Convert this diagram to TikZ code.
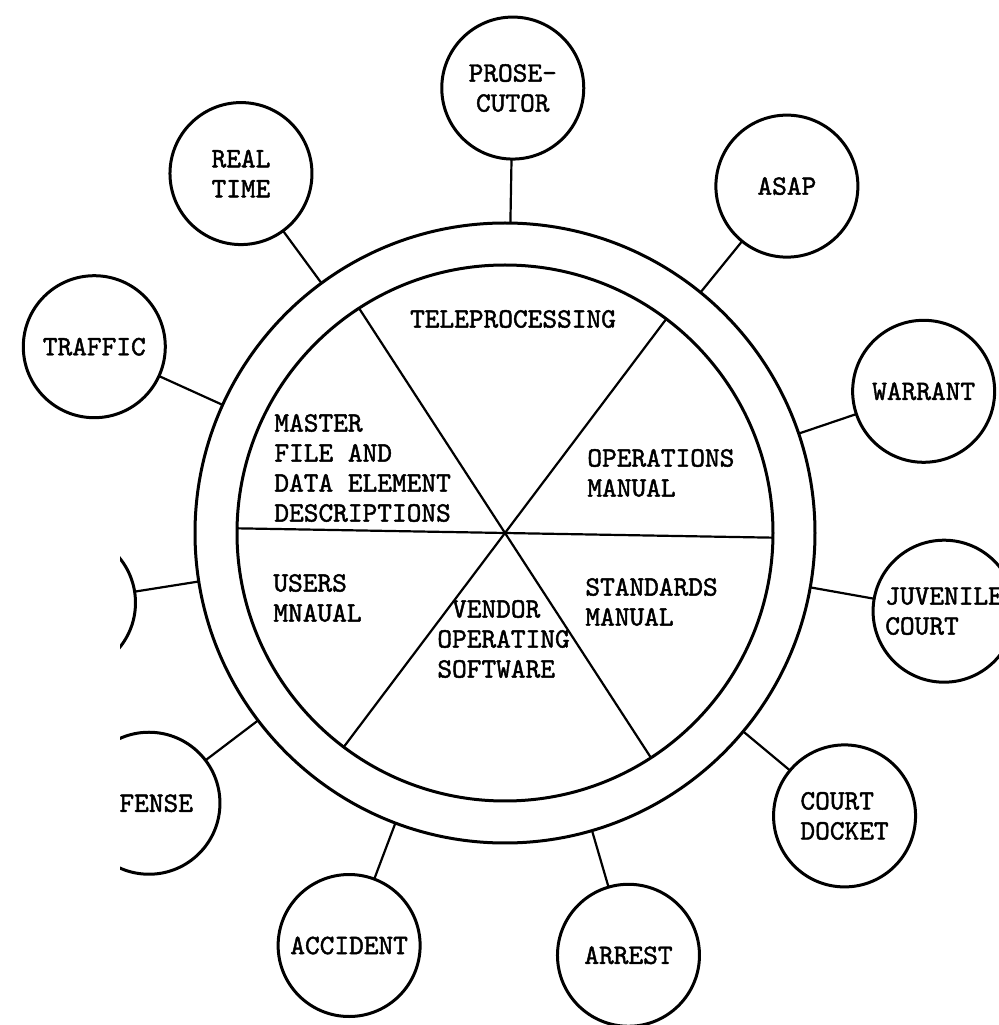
\documentclass[tikz,border=0pt]{standalone}
\usepackage{fontspec}
\setmonofont{lmmono10-regular.otf}[FakeBold=1.6]
\usetikzlibrary{calc}

\begin{document}
\begin{tikzpicture}[x=0.5pt, y=0.5pt, font=\ttfamily\fontsize{14}{15}\selectfont,
    ring/.style={draw, circle, line width=1.5pt, inner sep=0pt, outer sep=0pt},
    unit/.style={draw, circle, line width=1.5pt, minimum size=71pt, inner sep=0pt, outer sep=0pt, align=center},
    part/.style={inner sep=0pt, anchor=west, align=left},
    link/.style={line width=1.1pt}]
    \useasboundingbox (0,0) rectangle (999,1025);
    \coordinate (hub) at (505,492);
    \node[ring, minimum size=310pt] (out) at (hub) {};
    \node[ring, minimum size=268pt] (in) at (hub) {};

    \draw[link] (in.123) -- (in.-57);
    \draw[link] (in.53) -- (in.233);
    \draw[link] (in.179) -- (in.-1);

    \node[part, anchor=center] (tp) at (513,706) {TELEPROCESSING};
    \node[part] (mf) at (274,557) {MASTER\\FILE AND\\DATA ELEMENT\\DESCRIPTIONS};
    \node[part] (om) at (587,552) {OPERATIONS\\MANUAL};
    \node[part] (um) at (273,427) {USERS\\MNAUAL};
    \node[part] (vs) at (437,386) {\hphantom{V}VENDOR\\OPERATING\\SOFTWARE};
    \node[part] (sm) at (585,423) {STANDARDS\\MANUAL};

    \node[unit] (P) at ($(hub)+(89:445)$) {PROSE-\\CUTOR};
    \node[unit] (RT) at ($(hub)+(126.3:446)$) {REAL\\TIME};
    \node[unit] (A) at ($(hub)+(50.9:447)$) {ASAP};
    \node[unit] (T) at ($(hub)+(155.6:451)$) {TRAFFIC};
    \node[unit] (W) at ($(hub)+(18.7:442)$) {WARRANT};
    \node[unit, align=left] (J) at ($(hub)+(-10.1:446)$) {JUVENILE\\COURT};
    \node[unit, align=left] (CD) at ($(hub)+(-39.8:442)$) {COURT\\DOCKET};
    \node[unit] (AR) at ($(hub)+(-73.7:440)$) {ARREST};
    \node[unit] (AC) at ($(hub)+(-110.7:441)$) {ACCIDENT};
    \begin{scope}
        \clip (120,0) rectangle (999,1025);
        \node[unit, text width=44pt, align=right] (D) at ($(hub)+(-142.8:447)$) {FENSE};
        \node[unit] (U) at ($(hub)+(-171:446)$) {};
    \end{scope}

    \draw[link] (P) -- (out) (RT) -- (out) (A) -- (out) (T) -- (out)
        (W) -- (out) (J) -- (out) (CD) -- (out) (AR) -- (out)
        (AC) -- (out) (D) -- (out) (U) -- (out);
\end{tikzpicture}
\end{document}
